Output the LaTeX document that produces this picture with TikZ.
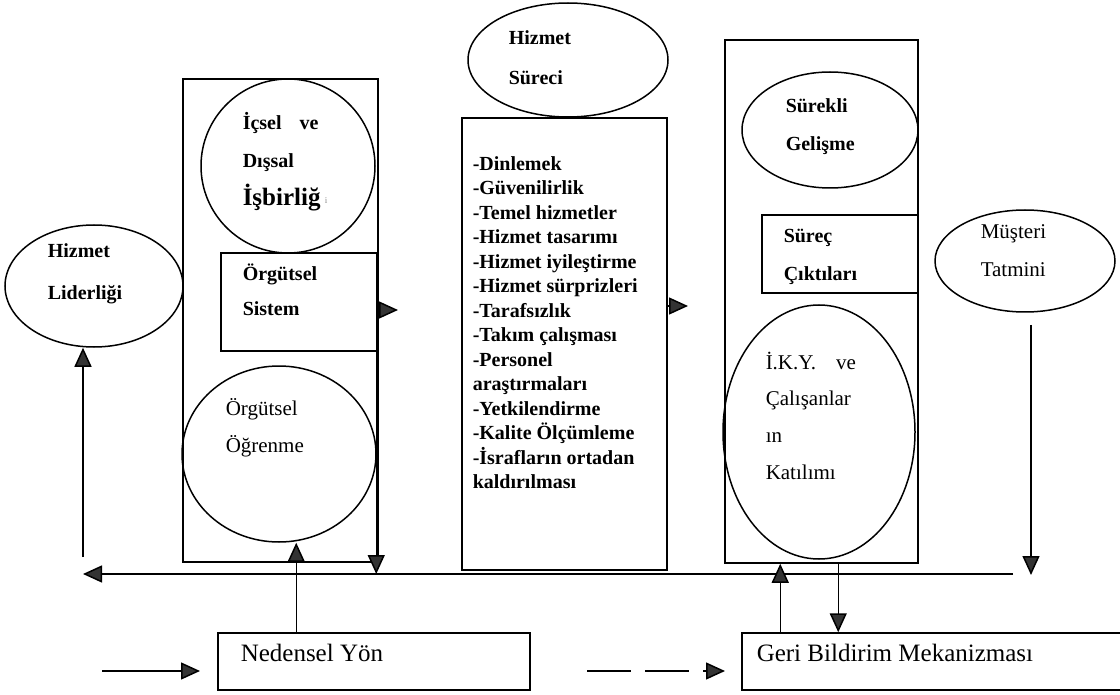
\documentclass[tikz,border=0pt]{standalone}
\usepackage{fontspec}
\setmainfont{Liberation Serif}
\usetikzlibrary{arrows.meta,shapes.geometric,calc}
\begin{document}
\begin{tikzpicture}[x=1pt,y=-1pt,
  line width=1.5pt,
  ell/.style={draw, ellipse, inner sep=0pt},
  box/.style={draw, rectangle, inner sep=0pt},
  lbl/.style={anchor=mid west, inner sep=0pt, font=\fontsize{21}{25}\selectfont},
  lblb/.style={anchor=mid west, inner sep=0pt, font=\fontsize{20}{24}\selectfont\bfseries},
  leg/.style={anchor=mid west, inner sep=0pt, font=\fontsize{25}{30}\selectfont},
  arr/.style={-{Triangle[length=19pt,width=17pt,fill=black!80]}},
]
\useasboundingbox (0,0) rectangle (1120,695);
\clip (0,0) rectangle (1120,695);

% --- left: organisational block ---
\node[box, minimum width=195pt, minimum height=483pt] (lbox) at (280.5,320.5) {};
\node[ell, minimum width=174pt, minimum height=174pt] (icsel) at (288,166) {};
\node[box, fill=white, minimum width=156pt, minimum height=98pt] (sys) at (299,302) {};
\node[ell, minimum width=194pt, minimum height=176pt] (ogr) at (279,454) {};
\node[ell, minimum width=178pt, minimum height=122pt] (lead) at (94,286) {};

\node[lblb] (lead1) at (47,255) {Hizmet};
\node[lblb] (lead2) at (47,297) {Liderliği};
\node[lblb] (icsel1) at (242,127) {İçsel\hspace{18pt}ve};
\node[lblb] (icsel2) at (242,165) {Dışsal};
\node[lblb, font=\fontsize{25}{30}\selectfont\bfseries] (icsel3) at (242,203) {İşbirliğ};
\node[anchor=mid west, inner sep=0pt, text=black!45, font=\fontsize{9}{10}\selectfont] (icsel4) at (324,201) {i};
\node[lblb] (sys1) at (242,278) {Örgütsel};
\node[lblb] (sys2) at (242,313) {Sistem};
\node[lbl] (ogr1) at (225,413) {Örgütsel};
\node[lbl] (ogr2) at (225,450) {Öğrenme};

% --- middle: service process ---
\node[ell, minimum width=200pt, minimum height=114pt] (surec) at (568,60) {};
\node[box, minimum width=205pt, minimum height=452pt] (list) at (564.5,344) {};
\node[lblb] (surec1) at (508,42) {Hizmet};
\node[lblb] (surec2) at (508,82) {Süreci};
\foreach \t [count=\i] in {-Dinlemek,-Güvenilirlik,-Temel hizmetler,-Hizmet tasarımı,
  -Hizmet iyileştirme,-Hizmet sürprizleri,-Tarafsızlık,-Takım çalışması,-Personel,
  araştırmaları,-Yetkilendirme,-Kalite Ölçümleme,-İsrafların ortadan,kaldırılması}
  \node[lblb] (item\i) at (472,{168+24.5*(\i-1)}) {\t};

% --- right: outputs block ---
\node[box, minimum width=193pt, minimum height=523pt] (rbox) at (821.5,301.5) {};
\node[ell, minimum width=176pt, minimum height=116pt] (surekli) at (830,130) {};
\node[box, minimum width=156pt, minimum height=78pt] (cikti) at (840,254) {};
\node[ell, minimum width=192pt, minimum height=254pt] (iky) at (819,432) {};
\node[ell, minimum width=180pt, minimum height=102pt] (mus) at (1025,261) {};

\node[lblb] (surekli1) at (785,110) {Sürekli};
\node[lblb] (surekli2) at (785,148) {Gelişme};
\node[lblb] (cikti1) at (783,240) {Süreç};
\node[lblb] (cikti2) at (783,278) {Çıktıları};
\node[lbl] (iky1) at (765,367) {İ.K.Y.\hspace{20pt}ve};
\node[lbl] (iky2) at (765,403) {Çalışanlar};
\node[lbl] (iky3) at (765,440) {ın};
\node[lbl] (iky4) at (765,477) {Katılımı};
\node[lbl] (mus1) at (980,236) {Müşteri};
\node[lbl] (mus2) at (980,274) {Tatmini};

% --- legend ---
\node[box, minimum width=312pt, minimum height=57pt] (ned) at (374,661.5) {};
\node[box, minimum width=388pt, minimum height=57pt] (geri) at (936,661.5) {};
\node[leg] (nedt) at (240,659) {Nedensel Yön};
\node[leg] (gerit) at (756,659) {Geri Bildirim Mekanizması};

% --- connector end points ---
\coordinate (fbR) at (1013,574);
\coordinate (fbL) at (83,574);
\coordinate (sysout) at (398,310);
\coordinate (listout) at (688,306);
\coordinate (lup) at (83,557);
\coordinate (mtop) at (1031,325);
\coordinate (mbot) at (1031,575);
\coordinate (lg1s) at (102,671);
\coordinate (lg1e) at (200,671);
\coordinate (lg2s) at (587,671);
\coordinate (lg2e) at (725,671);

% --- connectors ---
\draw[arr] (fbR) -- (fbL);
\draw[arr] (lbox.east |- sysout) -- (sysout);
\draw[arr] (list.east |- listout) -- (listout);
\draw[arr] ([xshift=-1.5pt]sys.south east) -- ([xshift=-1.5pt]sys.south east |- fbL);
\draw[arr] ([xshift=79pt]ned.north west) -- ([xshift=79pt]ned.north west |- ogr.south);
\draw[arr] (lup) -- (lup |- lead.south);
\draw[arr] (mtop) -- (mbot);
\draw[arr] ([xshift=39pt]geri.north west) -- ([xshift=39pt]geri.north west |- rbox.south);
\draw[arr] ([xshift=97pt]geri.north west |- rbox.south) -- ([xshift=97pt]geri.north west);
\draw[arr] (lg1s) -- (lg1e);
\draw[arr, dash pattern=on 44pt off 14pt] (lg2s) -- (lg2e);
\end{tikzpicture}
\end{document}
